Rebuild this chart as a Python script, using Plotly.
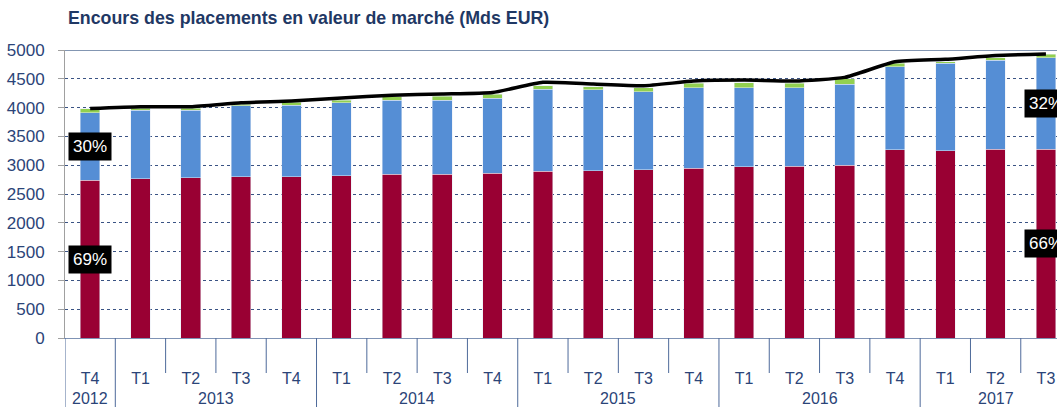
import plotly.graph_objects as go

# ---- data (Mds EUR) ----
quarters = ["T4", "T1", "T2", "T3", "T4", "T1", "T2", "T3", "T4", "T1",
            "T2", "T3", "T4", "T1", "T2", "T3", "T4", "T1", "T2", "T3"]
years = ["2012", "2013", "2013", "2013", "2013", "2014", "2014", "2014", "2014", "2015",
         "2015", "2015", "2015", "2016", "2016", "2016", "2016", "2017", "2017", "2017"]
red_vals = [2743, 2766, 2783, 2801, 2801, 2818, 2847, 2847, 2859, 2891,
            2905, 2922, 2951, 2974, 2986, 3003, 3270, 3253, 3281, 3281]
blue_vals = [1168, 1192, 1175, 1227, 1244, 1268, 1285, 1285, 1302, 1426,
             1401, 1355, 1395, 1372, 1360, 1401, 1440, 1515, 1545, 1586]
green_vals = [65, 35, 35, 29, 52, 46, 58, 69, 69, 64,
              57, 69, 75, 87, 75, 93, 58, 29, 41, 58]
total_line = [3985, 4016, 4016, 4085, 4115, 4165, 4215, 4235, 4262, 4440,
              4410, 4380, 4460, 4478, 4462, 4525, 4795, 4838, 4905, 4930]
# share labels shown on first and last bar
label_idx = [0, 19]
blue_share_labels = ["30%", "32%"]
red_share_labels = ["69%", "66%"]

RED = "#990033"
BLUE = "#558ED5"
GREEN = "#92D050"
NAVY = "#1F3864"
TXT = "#2B4478"
FONT = "Liberation Sans"

x = list(range(len(quarters)))

fig = go.Figure()
fig.add_bar(x=x, y=red_vals, marker_color=RED, width=0.39, name="a")
fig.add_bar(x=x, y=blue_vals, marker_color=BLUE, width=0.39, name="b")
fig.add_bar(x=x, y=green_vals, marker_color=GREEN, width=0.39, name="c")
fig.add_scatter(x=x, y=total_line, mode="lines",
                line=dict(color="black", width=3.5, shape="spline", smoothing=0.5),
                name="total")

# share labels
for i, bl, rl in zip(label_idx, blue_share_labels, red_share_labels):
    for yv, t in ((red_vals[i] + blue_vals[i] / 2, bl), (red_vals[i] / 2, rl)):
        fig.add_annotation(x=i, y=yv, xref="x", yref="y", text=t, showarrow=False,
                           bgcolor="black", font=dict(color="white", size=17, family=FONT),
                           borderpad=4, xanchor="center", yanchor="middle")

# multi-level axis: separators and year labels
plot_h = 288.0
short_y = -(373 - 338) / plot_h
long_y = -(407 - 338) / plot_h
for k in range(len(quarters) + 1):
    b = k - 0.5
    is_year = (k == 0) or (k == len(quarters)) or (years[k] != years[k - 1])
    fig.add_shape(type="line", xref="x", yref="paper", x0=b, x1=b, y0=0,
                  y1=long_y if is_year else short_y,
                  line=dict(color="#4E6A9A", width=1))

groups = []
for i, yv in enumerate(years):
    if not groups or groups[-1][0] != yv:
        groups.append([yv, i, i])
    else:
        groups[-1][2] = i
for yv, a, b in groups:
    fig.add_annotation(x=(a + b) / 2, y=-(398 - 338) / plot_h, xref="x", yref="paper",
                       text=yv, showarrow=False, yanchor="middle",
                       font=dict(size=16, color=TXT, family=FONT))

# top border
fig.add_shape(type="line", xref="paper", yref="y", x0=0, x1=1, y0=5000, y1=5000,
              line=dict(color="#5A7399", width=1.5))

fig.update_layout(
    width=1057, height=407,
    margin=dict(l=65, r=0, t=50, b=69),
    barmode="stack", showlegend=False,
    plot_bgcolor="white", paper_bgcolor="white",
    font=dict(family=FONT, color=TXT),
    title=dict(text="<b>Encours des placements en valeur de marché (Mds EUR)</b>",
               x=(68 - 65) / 992, xref="paper", xanchor="left",
               y=1 - 18 / 407, yanchor="middle",
               font=dict(size=17.8, color=NAVY, family=FONT)),
    xaxis=dict(range=[-0.5, 19.22], tickvals=x, ticktext=quarters,
               tickfont=dict(size=16, color=TXT), ticks="", showgrid=False,
               showline=True, linecolor="#7F93B5", linewidth=1,
               ticklabelstandoff=26, zeroline=False),
    yaxis=dict(range=[0, 5000], tickvals=list(range(0, 5001, 500)),
               tickfont=dict(size=17, color=TXT), ticks="outside", ticklen=6,
               tickcolor="#A0A0A0", showline=True, linecolor="#A0A0A0", linewidth=1,
               showgrid=True, gridcolor="#3A5384", griddash="dot", gridwidth=1,
               zeroline=False, ticklabelstandoff=10),
)

fig.write_html("out.html", config={"displayModeBar": False},
               post_script="document.body.style.margin='0';document.body.style.overflow='hidden';")
